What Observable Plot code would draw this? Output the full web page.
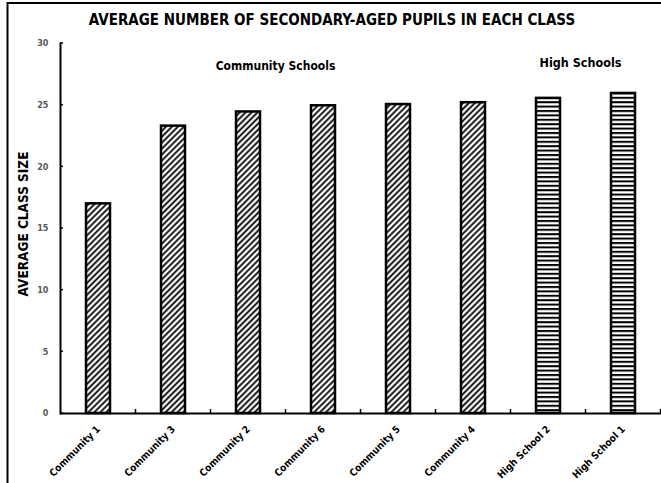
<!DOCTYPE html>
<html>
<head>
<meta charset="utf-8">
<script src="https://cdn.jsdelivr.net/npm/d3@7"></script>
<script src="https://cdn.jsdelivr.net/npm/@observablehq/plot@0.6"></script>
<style>
  html, body { margin: 0; padding: 0; background: #fff; }
  #chart { position: relative; width: 661px; height: 483px; overflow: hidden; }
  #chart svg { font-family: "DejaVu Sans Condensed", "DejaVu Sans", sans-serif; }
</style>
</head>
<body>
<div id="chart"></div>
<script>
// Average secondary class size per school, sorted ascending
const schools = ["Community 1", "Community 3", "Community 2", "Community 6", "Community 5", "Community 4", "High School 2", "High School 1"];
const classSize = [17.0, 23.3, 24.45, 24.95, 25.05, 25.2, 25.55, 25.95];
const schoolType = ["Community", "Community", "Community", "Community", "Community", "Community", "High", "High"];
const yTicks = [0, 5, 10, 15, 20, 25, 30];
const groupLabels = ["Community Schools", "High Schools"];
const groupAnchor = ["Community 2", "High School 2"];
const groupLabelY = [28.2, 28.4];

const rows = schools.map((s, i) => ({school: s, size: classSize[i], type: schoolType[i]}));
const community = rows.filter(d => d.type === "Community");
const high = rows.filter(d => d.type === "High");

const W = 661, H = 483;
const plot = Plot.plot({
  width: W,
  height: H,
  marginLeft: 60,
  marginRight: 0,
  marginTop: 43,
  marginBottom: 70,
  style: {fontFamily: "'DejaVu Sans Condensed', 'DejaVu Sans', sans-serif", background: "transparent"},
  x: {domain: schools, paddingInner: 0.68, paddingOuter: 0.34, label: null},
  y: {domain: [0, 30], label: null},
  marks: [
    Plot.barY(community, {x: "school", y: "size", fill: "url(#hatch-diag)", stroke: "#000", strokeWidth: 2.5}),
    Plot.barY(high, {x: "school", y: "size", fill: "url(#hatch-horiz)", stroke: "#000", strokeWidth: 2.5}),
    Plot.axisY(yTicks, {tickSize: 0, tickPadding: 12, fontSize: 9, fontWeight: "bold", fill: "#595959", label: null}),
    Plot.axisX({tickSize: 0, tickRotate: -45, tickPadding: 14, fontSize: 10, fontWeight: "bold", fill: "#000", label: null}),
    Plot.frame({anchor: "left", stroke: "#000", strokeWidth: 2}),
    Plot.ruleY([0], {stroke: "#000", strokeWidth: 2}),
    Plot.text([groupLabels[0]], {x: () => groupAnchor[0], y: () => groupLabelY[0], text: d => d, dx: 27, fontSize: 12, fontWeight: "bold", fill: "#000"}),
    Plot.text([groupLabels[1]], {x: () => groupAnchor[1], y: () => groupLabelY[1], text: d => d, dx: 32, fontSize: 12.5, fontWeight: "bold", fill: "#000"})
  ]
});

const svg = d3.select(plot);

// Hatch fills for the two school types
const defs = svg.insert("defs", ":first-child");
const dp = 4.2;
const diag = defs.append("pattern")
  .attr("id", "hatch-diag").attr("patternUnits", "userSpaceOnUse")
  .attr("width", dp).attr("height", dp).attr("patternTransform", "rotate(45)");
diag.append("rect").attr("width", dp).attr("height", dp).attr("fill", "#fff");
diag.append("line").attr("x1", 1.2).attr("x2", 1.2).attr("y1", 0).attr("y2", dp)
  .attr("stroke", "#000").attr("stroke-width", 1.8);
const horiz = defs.append("pattern")
  .attr("id", "hatch-horiz").attr("patternUnits", "userSpaceOnUse")
  .attr("width", 4.4).attr("height", 4.4);
horiz.append("rect").attr("width", 4.4).attr("height", 4.4).attr("fill", "#fff");
horiz.append("rect").attr("y", 0).attr("width", 4.4).attr("height", 2).attr("fill", "#000");

// Inward tick marks on both axes, placed with the chart's own scales
const xs = plot.scale("x"), ys = plot.scale("y");
const y0 = ys.apply(0);
const step = xs.apply(schools[1]) - xs.apply(schools[0]);
const band0 = xs.apply(schools[0]) - (step - xs.bandwidth) / 2;
const tickG = svg.append("g").attr("stroke", "#000").attr("stroke-width", 1.5);
schools.forEach((s, i) => {
  const bx = band0 + (i + 1) * step;
  tickG.append("line").attr("x1", bx).attr("x2", bx).attr("y1", y0).attr("y2", y0 - 4);
});
const axisX = 60;
yTicks.forEach(t => {
  tickG.append("line").attr("x1", axisX).attr("x2", axisX + 3).attr("y1", ys.apply(t)).attr("y2", ys.apply(t));
});

// Titles
svg.append("text")
  .attr("x", 332).attr("y", 25).attr("text-anchor", "middle")
  .attr("font-size", 15).attr("font-weight", "bold").attr("fill", "#000")
  .text("AVERAGE NUMBER OF SECONDARY-AGED PUPILS IN EACH CLASS");
svg.append("text")
  .attr("transform", `translate(28,${(ys.apply(0) + ys.apply(30)) / 2 - 4}) rotate(-90)`)
  .attr("text-anchor", "middle")
  .attr("font-size", 13.5).attr("font-weight", "bold").attr("fill", "#000")
  .text("AVERAGE CLASS SIZE");

// Chart area border
svg.append("rect")
  .attr("x", 7.5).attr("y", 3).attr("width", 700).attr("height", 520)
  .attr("fill", "none").attr("stroke", "#000").attr("stroke-width", 2);

document.getElementById("chart").appendChild(plot);
</script>
</body>
</html>
